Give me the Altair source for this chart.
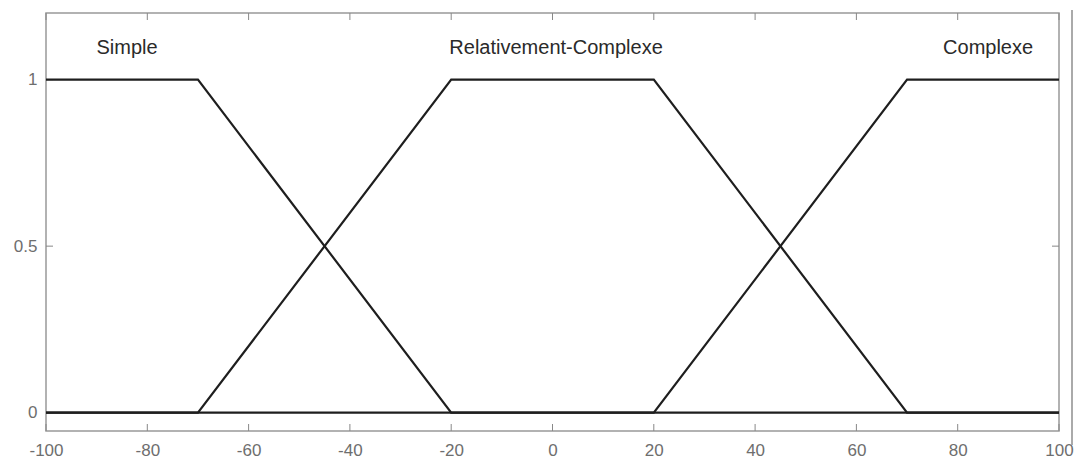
import altair as alt
import pandas as pd

x_pts = [-100, -70, -20, 20, 70, 100]
simple = [1, 1, 0, 0, 0, 0]
relatif = [0, 0, 1, 1, 0, 0]
complexe = [0, 0, 0, 0, 1, 1]
series_names = ["Simple", "Relativement-Complexe", "Complexe"]

label_names = ["Simple", "Relativement-Complexe", "Complexe"]
label_x = [-84, 0.7, 86]
label_y = [1.095, 1.095, 1.095]

x_ticks = [-100, -80, -60, -40, -20, 0, 20, 40, 60, 80, 100]
y_ticks = [0, 0.5, 1]

W, H = 1013, 418

rows = []
for name, vals in zip(series_names, [simple, relatif, complexe]):
    for i, (xv, yv) in enumerate(zip(x_pts, vals)):
        rows.append({"x": xv, "y": yv, "s": name, "o": i})
df = pd.DataFrame(rows)
lab = pd.DataFrame({"t": label_names, "x": label_x, "y": label_y})
xt = pd.DataFrame({"v": x_ticks})
yt = pd.DataFrame({"v": y_ticks})

xs = alt.Scale(domain=[-100, 100], nice=False, zero=False)
ys = alt.Scale(domain=[-0.055, 1.2], nice=False, zero=False)

xaxis = alt.Axis(values=x_ticks, tickSize=0, labelPadding=11, domain=False, grid=False,
                 labelColor="#6e6e6e", labelFontSize=17, labelFont="Liberation Sans", title=None,
                 labelExpr="datum.value + ''", labelFlush=False, labelOverlap=False)
yaxis = alt.Axis(values=y_ticks, tickSize=0, labelPadding=9, domain=False, grid=False,
                 labelColor="#6e6e6e", labelFontSize=17, labelFont="Liberation Sans", title=None,
                 labelExpr="datum.value + ''", labelFlush=False, labelOverlap=False)

lines = alt.Chart(df).mark_line(color="#1e1e1e", strokeWidth=2.2).encode(
    x=alt.X("x:Q", scale=xs, axis=xaxis),
    y=alt.Y("y:Q", scale=ys, axis=yaxis),
    detail="s:N",
    order="o:Q",
)

texts = alt.Chart(lab).mark_text(font="Liberation Sans", fontSize=20, color="#2a2a2a").encode(
    x=alt.X("x:Q", scale=xs), y=alt.Y("y:Q", scale=ys), text="t:N"
)

tick_col = "#888888"
xb = alt.Chart(xt).mark_rule(color=tick_col).encode(x=alt.X("v:Q", scale=xs), y=alt.value(H - 7), y2=alt.value(H))
xtp = alt.Chart(xt).mark_rule(color=tick_col).encode(x=alt.X("v:Q", scale=xs), y=alt.value(0), y2=alt.value(7))
yl = alt.Chart(yt).mark_rule(color=tick_col).encode(y=alt.Y("v:Q", scale=ys), x=alt.value(0), x2=alt.value(7))
yr = alt.Chart(yt).mark_rule(color=tick_col).encode(y=alt.Y("v:Q", scale=ys), x=alt.value(W - 7), x2=alt.value(W))
edge = alt.Chart(xt).mark_rule(color="#aaaaaa", strokeWidth=1.5, clip=False).encode(
    x=alt.value(W + 13), y=alt.value(-3), y2=alt.value(H + 14))

chart = alt.layer(xb, xtp, yl, yr, lines, texts, edge).properties(
    width=W, height=H,
    autosize=alt.AutoSizeParams(type="none"),
    padding={"left": 38, "top": 5, "right": 15, "bottom": 30},
    background="white",
).configure_view(stroke="#999999", strokeWidth=1.5)

chart.save("out.html", embed_options={"renderer": "svg", "actions": False})
